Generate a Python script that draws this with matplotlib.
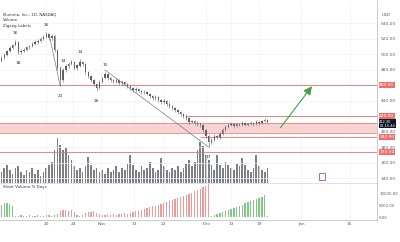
import matplotlib
matplotlib.use("Agg")
import matplotlib.pyplot as plt
import matplotlib.transforms as mtransforms
from matplotlib.patches import Rectangle
import numpy as np

# ---------------- data ----------------
opens = [491.0, 494.9, 499.0, 503.5, 508.0, 511.5, 515.5, 502.6, 504.0, 505.2,
         508.5, 510.0, 512.8, 515.5, 517.0, 519.5, 522.0, 525.8, 520.7, 523.3,
         505.2, 482.0, 466.5, 479.4, 484.5, 487.5, 489.7, 482.0, 485.0, 489.7,
         487.1, 476.8, 471.6, 466.5, 461.3, 456.2, 463.9, 469.1, 474.2, 469.1,
         466.5, 463.9, 466.5, 462.6, 463.9, 461.3, 458.7, 456.2, 453.6, 454.9,
         452.3, 451.0, 451.0, 448.4, 445.8, 443.2, 444.5, 440.7, 438.1, 439.4,
         435.5, 432.9, 430.3, 427.8, 425.2, 422.6, 420.0, 417.4, 412.3, 413.6,
         411.0, 409.7, 408.4, 402.0, 394.2, 386.5, 389.1, 394.2, 392.9, 396.8,
         402.0, 405.8, 408.4, 409.7, 407.1, 409.7, 408.4, 411.0, 408.4, 409.7,
         411.0, 409.7, 412.3, 411.0, 413.6, 414.9]
closes = [494.9, 499.0, 503.5, 508.0, 511.5, 515.5, 502.6, 504.0, 505.2, 508.5,
          510.0, 512.8, 515.5, 517.0, 519.5, 522.0, 525.8, 520.7, 523.3, 505.2,
          482.0, 466.5, 479.4, 484.5, 487.5, 489.7, 482.0, 485.0, 489.7, 487.1,
          476.8, 471.6, 466.5, 461.3, 456.2, 463.9, 469.1, 474.2, 469.1, 466.5,
          463.9, 466.5, 462.6, 463.9, 461.3, 458.7, 456.2, 453.6, 454.9, 452.3,
          451.0, 451.0, 448.4, 445.8, 443.2, 444.5, 440.7, 438.1, 439.4, 435.5,
          432.9, 430.3, 427.8, 425.2, 422.6, 420.0, 417.4, 412.3, 413.6, 411.0,
          409.7, 408.4, 402.0, 394.2, 386.5, 389.1, 394.2, 392.9, 396.8, 402.0,
          405.8, 408.4, 409.7, 407.1, 409.7, 408.4, 411.0, 408.4, 409.7, 411.0,
          409.7, 412.3, 411.0, 413.6, 414.9, 412.3]
highs = [497.0, 501.0, 505.0, 510.0, 513.5, 518.0, 516.5, 506.5, 507.5, 510.5,
         512.0, 515.0, 517.5, 519.5, 521.5, 524.5, 528.5, 527.0, 525.5, 524.5,
         507.0, 484.0, 481.5, 487.0, 490.0, 492.0, 491.0, 487.5, 494.0, 491.5,
         488.5, 478.5, 473.5, 468.0, 463.0, 466.0, 471.0, 477.0, 475.5, 471.0,
         468.0, 468.5, 468.0, 466.0, 465.5, 463.0, 460.5, 458.0, 457.0, 456.5,
         454.0, 453.0, 452.5, 450.0, 447.5, 446.5, 446.0, 442.5, 441.5, 441.0,
         437.5, 434.5, 432.0, 429.5, 427.0, 424.5, 422.0, 419.0, 415.5, 415.5,
         413.0, 411.5, 410.0, 403.5, 396.0, 391.5, 396.5, 396.0, 399.0, 404.0,
         408.0, 410.5, 412.0, 411.5, 411.5, 411.5, 413.0, 412.5, 411.5, 413.0,
         412.5, 414.5, 414.0, 415.5, 417.0, 416.5]
lows = [489.5, 493.0, 497.5, 502.0, 506.5, 510.0, 500.5, 500.5, 502.0, 503.5,
        506.5, 508.5, 511.0, 513.5, 515.0, 518.0, 520.5, 518.5, 518.5, 503.0,
        479.0, 458.7, 464.5, 477.0, 482.5, 485.5, 480.0, 480.0, 483.5, 485.0,
        474.5, 469.5, 464.5, 459.0, 452.0, 454.5, 462.0, 467.5, 467.0, 464.5,
        462.0, 462.0, 460.5, 460.5, 459.5, 456.5, 454.0, 451.5, 451.5, 450.5,
        449.0, 449.0, 446.5, 443.5, 441.0, 441.0, 438.5, 436.0, 436.0, 433.5,
        430.5, 428.0, 425.5, 423.0, 420.5, 418.0, 415.0, 410.0, 410.5, 409.0,
        407.5, 406.0, 399.5, 391.5, 380.0, 383.5, 387.5, 390.5, 391.0, 395.0,
        400.5, 404.0, 406.5, 405.0, 405.5, 406.5, 406.5, 406.5, 406.5, 408.0,
        407.5, 408.0, 409.0, 409.5, 412.0, 410.5]
volume_m = [0.24, 0.33, 0.39, 0.28, 0.20, 0.33, 0.37, 0.24, 0.17, 0.28,
            0.24, 0.33, 0.20, 0.28, 0.15, 0.24, 0.33, 0.39, 0.46, 0.72,
            0.98, 0.83, 0.72, 0.77, 0.61, 0.50, 0.37, 0.28, 0.33, 0.24,
            0.37, 0.57, 0.39, 0.28, 0.33, 0.24, 0.28, 0.20, 0.33, 0.24,
            0.28, 0.37, 0.24, 0.33, 0.28, 0.42, 0.61, 0.39, 0.28, 0.24,
            0.37, 0.28, 0.33, 0.46, 0.33, 0.24, 0.28, 0.55, 0.37, 0.28,
            0.24, 0.33, 0.28, 0.37, 0.24, 0.33, 0.42, 0.50, 0.37, 0.46,
            0.72, 0.90, 0.81, 0.61, 0.50, 0.39, 0.28, 0.61, 0.39, 0.33,
            0.46, 0.39, 0.33, 0.28, 0.42, 0.37, 0.55, 0.39, 0.28, 0.24,
            0.33, 0.61, 0.37, 0.28, 0.24, 0.33]
indicator = [5200, 5800, 6000, 5500, 4800, 600, 400, 800, 500, 300,
             700, 400, 600, 900, 500, 300, 700, 800, 600, 1000,
             1200, 2600, 2900, 3000, 2400, 2800, 2000, 800, 600, 1000,
             1800, 2200, 2000, 2400, 1600, 1200, 900, 700, 1100, 800,
             1200, 1000, 1300, 1100, 1500, 1400, 1800, 2000, 2300, 2700,
             3000, 3400, 3700, 4100, 4400, 4800, 5200, 5500, 5900, 6300,
             6700, 7100, 7500, 7900, 8300, 8800, 9200, 9700, 10200, 10700,
             11300, 11900, 12500, 13100, 13800, 500, 900, 1300, 1700, 2100,
             2500, 3000, 3500, 3900, 4300, 4800, 5200, 5700, 6100, 6600,
             7000, 7500, 8000, 8500, 9000, 600]
indicator_side = ([1] * 5 + [1, -1, 1, 1, -1, 1, -1, 1, 1, -1, 1, 1, -1, 1, 1, 1]
                  + [-1] * 6 + [1, 1, 1] + [-1] * 6 + [-1] * 11 + [-1] * 28
                  + [1] * 20 + [-1])

swing_idx = [5, 6, 16, 21, 22, 28, 34, 37, 74]
swing_text = ["16", "18", "26", "21", "14", "14", "16", "15", "17"]
swing_above = [True, False, True, False, True, True, False, True, False]

trend_lines = [(17, 525.8, 21, 458.7), (37, 479.4, 74, 380.0)]
arrow_start = (99, 402.0)
arrow_end = (111.5, 461.3)

level_full = [460.00, 373.50]
level_partial = [(66, 420.00), (71, 392.90)]
band = (398.10, 411.00)
current_price = 412.30
price_ticks = [540, 520, 500, 480, 460, 440, 420, 400, 380, 360, 340]

x_tick_pos = [16, 25.7, 35.7, 47.5, 57.9, 73.2, 82.1, 92.1, 107.1, 124.3]
x_tick_lab = ["20", "24", "Nov", "13", "22", "Dec", "13", "19", "Jan", "15"]
ind_ticks = [0, 5000, 10000]

# ---------------- figure ----------------
RED = "#ef6f6c"
GRID = "#f0f2f6"
TXT = "#5d606b"
FS = 3.2

fig = plt.figure(figsize=(4.0, 2.42), dpi=100)
fig.patch.set_facecolor("white")
W = 377 / 400
ax = fig.add_axes([0, 59 / 242, W, 183 / 242])
axi = fig.add_axes([0, 22 / 242, W, 37 / 242], sharex=ax)

n = len(closes)
x = np.arange(n)
xlim = (-0.5, 134.1)
ax.set_xlim(*xlim)
ax.set_ylim(333.6, 569.7)

for a in (ax, axi):
    for s in ("top", "left", "bottom"):
        a.spines[s].set_visible(False)
    a.spines["right"].set_color("#b2b5be")
    a.spines["right"].set_linewidth(0.5)
    a.set_facecolor("white")
    for xp in x_tick_pos:
        a.axvline(xp, color=GRID, lw=0.5, zorder=0)

for p in price_ticks:
    ax.axhline(p, color=GRID, lw=0.5, zorder=0)

# volume (overlay)
axv = ax.twinx()
axv.set_ylim(0, 4.0)
axv.set_axis_off()
axv.bar(x, volume_m, width=0.62, color="#7d8089", zorder=1)
ax.set_zorder(axv.get_zorder() + 1)
ax.patch.set_visible(False)

# levels
trans = mtransforms.blended_transform_factory(ax.transAxes, ax.transData)
ax.axhspan(band[0], band[1], color="#f7cfcd", alpha=0.9, zorder=1, lw=0)
ax.axhline(band[0], color=RED, lw=0.5, zorder=2)
ax.axhline(band[1], color=RED, lw=0.5, zorder=2)
for lv in level_full:
    ax.axhline(lv, color=RED, lw=0.6, zorder=2)
for start, lv in level_partial:
    ax.hlines(lv, start, xlim[1], color=RED, lw=0.6, zorder=2)

# candles
o = np.array(opens); c = np.array(closes)
ax.vlines(x, lows, highs, color="#5d606b", lw=0.4, zorder=3)
ax.bar(x, np.abs(c - o) + 0.25, bottom=np.minimum(o, c), width=0.5,
       color="#5d606b", zorder=3)

# trend lines
for x0, y0, x1, y1 in trend_lines:
    ax.plot([x0, x1], [y0, y1], color="#787b86", lw=0.5, zorder=3)

# arrow
ax.annotate("", xy=arrow_end, xytext=arrow_start,
            arrowprops=dict(arrowstyle="-|>,head_length=0.5,head_width=0.25",
                            color="#43a047", lw=0.8), zorder=4)

# swing labels
for i, t, up in zip(swing_idx, swing_text, swing_above):
    yv = highs[i] if up else lows[i]
    ax.annotate(t, (i, yv), xytext=(0, 5 if up else -7), textcoords="offset points",
                ha="center", va="center", fontsize=FS, color="#333333", zorder=5)

# small purple box
ax.add_patch(Rectangle((113.5, 337.5), 2.2, 9.5, fill=False, ec="#9c27b0", lw=0.5, zorder=5))

# right price axis
ax.yaxis.tick_right()
ax.set_yticks(price_ticks)
ax.set_yticklabels([f"{p:.2f}" for p in price_ticks])
ax.tick_params(axis="y", length=0, pad=2.5, labelsize=FS, colors=TXT)
ax.tick_params(axis="x", length=0, labelbottom=False)
ax.text(1.012, 550.3, "USD", transform=trans, fontsize=FS, color=TXT,
        ha="left", va="center")

def tag(val, fc, txt=None, fs=FS):
    ax.text(1.006, val, txt or f"{val:.2f}", transform=trans, fontsize=fs,
            color="white", ha="left", va="center", zorder=10, clip_on=False,
            linespacing=0.95,
            bbox=dict(boxstyle="square,pad=0.15", fc=fc, ec="none"))

for lv in level_full:
    tag(lv, RED)
for _, lv in level_partial:
    tag(lv, RED)
tag(current_price - 2.2, "#131722", f"{current_price:.2f}\n02:15:44", fs=2.5)

# header text
ax.text(0.008, 0.923, "Illumina, Inc., 1D, NASDAQ", transform=ax.transAxes,
        fontsize=2.9, color="#333333", va="center")
ax.text(0.008, 0.891, "Volume", transform=ax.transAxes, fontsize=2.9,
        color="#333333", va="center")
ax.text(0.008, 0.858, "Zigzag Labels", transform=ax.transAxes,
        fontsize=2.9, color="#333333", va="center")

# indicator panel
colors = ["#81c784" if s > 0 else "#ef9a9a" for s in indicator_side]
axi.bar(x, indicator, width=0.45, color=colors, zorder=2)
axi.set_ylim(-1250, 14200)
axi.spines["top"].set_visible(True)
axi.spines["top"].set_color("#d1d4dc")
axi.spines["top"].set_linewidth(0.5)
axi.spines["bottom"].set_visible(True)
axi.spines["bottom"].set_color("#b2b5be")
axi.spines["bottom"].set_linewidth(0.5)
axi.yaxis.tick_right()
axi.set_yticks(ind_ticks)
axi.set_yticklabels([f"{v:.2f}" for v in ind_ticks])
axi.tick_params(axis="y", length=0, pad=1.5, labelsize=2.9, colors=TXT)
axi.set_xticks(x_tick_pos)
axi.set_xticklabels(x_tick_lab)
axi.tick_params(axis="x", length=0, pad=1.5, labelsize=FS, colors=TXT)
axi.text(0.008, 0.88, "Short Volume % Days", transform=axi.transAxes,
         fontsize=2.9, color="#333333", va="center")

fig.savefig("out.png", dpi=100, facecolor="white")
